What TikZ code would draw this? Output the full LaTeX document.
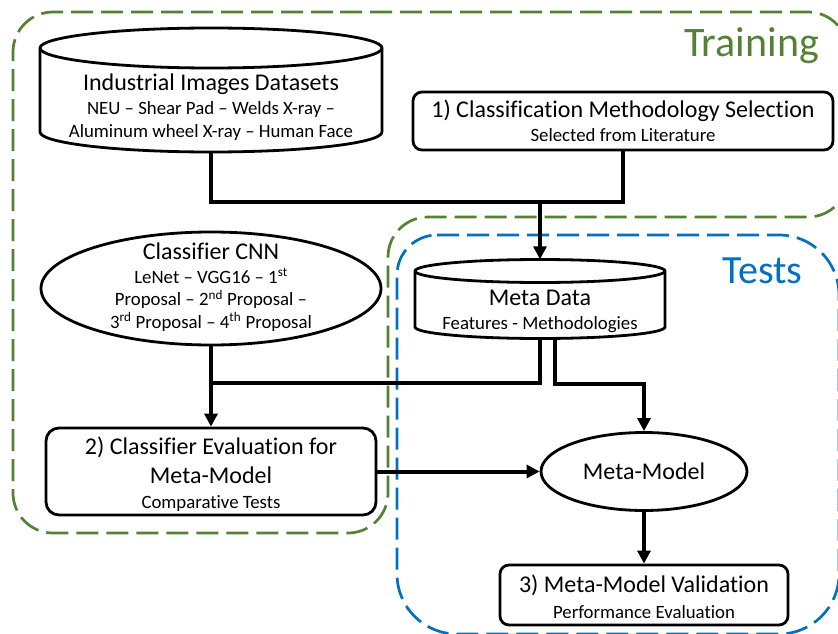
\documentclass[tikz,border=0pt]{standalone}
\usepackage{fontspec}
\setmainfont{Carlito}[Ligatures=NoCommon]
\usetikzlibrary{arrows.meta,shapes.geometric}
\definecolor{trainGreen}{HTML}{548235}
\definecolor{testBlue}{HTML}{0070C0}
\newcommand\ttlfont{\fontsize{24}{29}\selectfont}
\newcommand\subfont{\fontsize{18.8}{22.5}\selectfont}

\begin{document}
\begin{tikzpicture}[x=1pt,y=-1pt,
  region/.style={line width=2.7pt, dash pattern=on 22pt off 8pt},
  box/.style={draw, line width=2.8pt, fill=white, rounded corners=9pt, inner sep=0pt, align=center, font=\subfont},
  oval/.style={draw, ellipse, line width=2.8pt, fill=white, inner sep=0pt},
  txt/.style={inner sep=0pt, align=center, font=\subfont},
  link/.style={line width=4pt},
  flow/.style={line width=4pt, -{Triangle[length=13pt,width=13pt]}},
  drum/.style={line width=2.8pt, fill=white},
]
\useasboundingbox (0,0) rectangle (838,634);
\clip (0,0) rectangle (838,634);

% Training region (green, L-shaped)
\draw[region, trainGreen, rounded corners=40pt]
  (300,12) -- (848,12) -- (848,217) -- (388,217) -- (388,533) -- (13,533) -- (13,12) -- cycle;
% Tests region (blue)
\draw[region, testBlue]
  (437,235) -- (779,235) arc[start angle=90, end angle=0, radius=60pt]
  -- (839,574) arc[start angle=0, end angle=-90, radius=60pt]
  -- (457,634) arc[start angle=270, end angle=180, radius=60pt]
  -- (397,275) arc[start angle=180, end angle=90, radius=40pt] -- cycle;

\node[anchor=base, text=trainGreen, font=\fontsize{42}{42}\selectfont] (trainlbl) at (751.5,57) {Training};
\node[anchor=base, text=testBlue, font=\fontsize{40}{40}\selectfont] (testlbl) at (762.5,283) {Tests};

% node placeholders for the two database drums
\node[inner sep=0pt, minimum width=342pt, minimum height=124pt] (ds) at (211,90) {};
\node[inner sep=0pt, minimum width=250pt, minimum height=79pt] (meta) at (540,299) {};

% process boxes and ellipses
\node[box, minimum width=420pt, minimum height=58pt] (m1) at (623,121)
  {\ttlfont 1) Classification Methodology Selection\\[1pt]Selected from Literature};
\node[oval, minimum width=340pt, minimum height=113pt] (cnn) at (211,288.5) {};
\node[box, rounded corners=13pt, minimum width=330pt, minimum height=87pt] (m2) at (211,471.5)
  {\rule{0pt}{24pt}\ttlfont 2) Classifier Evaluation for\\[6pt]\ttlfont Meta-Model\\[3pt]Comparative Tests};
\node[oval, minimum width=206pt, minimum height=78pt, font=\ttlfont] (mm) at (644,471.5) {Meta-Model};
\node[box, minimum width=288pt, minimum height=60pt] (m3) at (644,595)
  {\rule{0pt}{21pt}\ttlfont 3) Meta-Model Validation\\[3pt]Performance Evaluation};

% connectors
\coordinate (j1) at (540,202);
\coordinate (j2) at (211,383);
\draw[link] (ds.south) |- (j1);
\draw[link] (m1.south) |- (j1);
\draw[flow] (j1) -- (meta.north);
\draw[flow] (cnn.south) -- (m2.north);
\draw[link] (meta.south) |- (j2);
\draw[flow] ([xshift=15pt]meta.south) -- ++(0,45) -| (mm.north);
\draw[flow] (m2.east) -- (mm.west);
\draw[flow] (mm.south) -- (m3.north);

% database drums
\draw[drum] (40,48) -- (40,132) arc[start angle=180, end angle=360, x radius=171pt, y radius=20pt]
  -- (382,48) arc[start angle=0, end angle=180, x radius=171pt, y radius=20pt] -- cycle;
\draw[line width=2.8pt] (40,48) arc[start angle=180, end angle=360, x radius=171pt, y radius=20pt];
\draw[drum] (415,271) -- (415,327) arc[start angle=180, end angle=360, x radius=125pt, y radius=11.5pt]
  -- (665,271) arc[start angle=0, end angle=180, x radius=125pt, y radius=11.5pt] -- cycle;
\draw[line width=2.8pt] (415,271) arc[start angle=180, end angle=360, x radius=125pt, y radius=11.5pt];

% texts of drums and classifier ellipse
\node[txt] (dstext) at (211,107)
  {\ttlfont Industrial Images Datasets\\[2pt]NEU – Shear Pad – Welds X-ray –\\Aluminum wheel X-ray – Human Face};
\node[txt] (metatext) at (540,311.5)
  {\ttlfont Meta Data\\[1pt]Features - Methodologies};
\node[txt] (cnntext) at (211,287)
  {\ttlfont Classifier CNN\\[1pt]LeNet – VGG16 – 1\textsuperscript{st}\\ Proposal – 2\textsuperscript{nd} Proposal –\\ 3\textsuperscript{rd} Proposal – 4\textsuperscript{th} Proposal};
\end{tikzpicture}
\end{document}
